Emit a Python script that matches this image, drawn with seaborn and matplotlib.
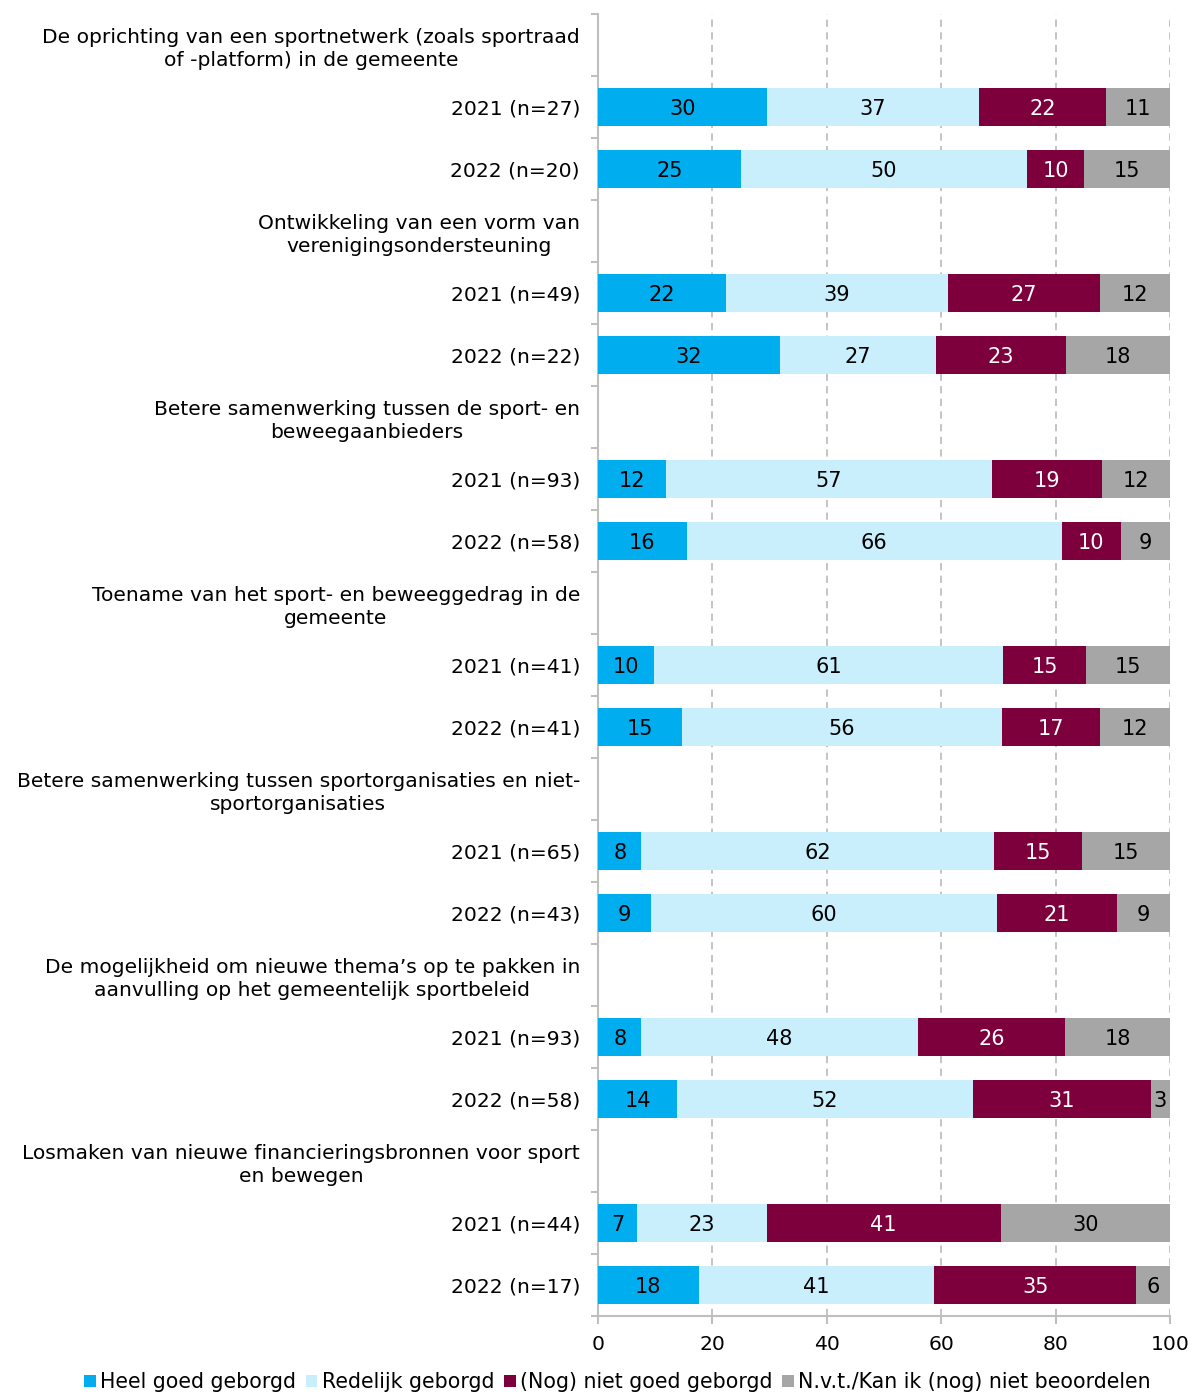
import seaborn as sns
import matplotlib
import pandas as pd
import numpy as np

matplotlib.use('Agg')
import matplotlib.pyplot as plt
from matplotlib.patches import Patch

# statements (header rows) and the two survey years under each
titles = [
    'De oprichting van een sportnetwerk (zoals sportraad\nof -platform) in de gemeente',
    'Ontwikkeling van een vorm van\nverenigingsondersteuning',
    'Betere samenwerking tussen de sport- en\nbeweegaanbieders',
    'Toename van het sport- en beweeggedrag in de\ngemeente',
    'Betere samenwerking tussen sportorganisaties en niet-\nsportorganisaties',
    'De mogelijkheid om nieuwe thema\u2019s op te pakken in\naanvulling op het gemeentelijk sportbeleid',
    'Losmaken van nieuwe financieringsbronnen voor sport\nen bewegen',
]
years = [
    '2021 (n=27)', '2022 (n=20)',
    '2021 (n=49)', '2022 (n=22)',
    '2021 (n=93)', '2022 (n=58)',
    '2021 (n=41)', '2022 (n=41)',
    '2021 (n=65)', '2022 (n=43)',
    '2021 (n=93)', '2022 (n=58)',
    '2021 (n=44)', '2022 (n=17)',
]
heel = [29.6, 25.0, 22.4, 31.8, 11.8, 15.5, 9.8, 14.6, 7.6, 9.3, 7.6, 13.8, 6.8, 17.6]
redelijk = [37.0, 50.0, 38.8, 27.3, 57.0, 65.6, 61.0, 56.1, 61.6, 60.4, 48.3, 51.8, 22.7, 41.2]
niet = [22.2, 10.0, 26.6, 22.7, 19.4, 10.3, 14.6, 17.1, 15.4, 21.0, 25.8, 31.0, 40.9, 35.3]
nvt = [11.2, 15.0, 12.2, 18.2, 11.8, 8.6, 14.6, 12.2, 15.4, 9.3, 18.3, 3.4, 29.6, 5.9]

series = ['Heel goed geborgd', 'Redelijk geborgd', '(Nog) niet goed geborgd',
          'N.v.t./Kan ik (nog) niet beoordelen']
colors = ['#00AEEF', '#C9EEFC', '#7D003C', '#A6A6A6']
text_colors = ['black', 'black', 'white', 'black']

# build row layout: header row, then two year rows, for each statement
labels = []
row_ids = []
bar_rows = []
for i, t in enumerate(titles):
    labels += [t, years[2 * i], years[2 * i + 1]]
for k in range(len(labels)):
    row_ids.append(str(k))
for i in range(len(titles)):
    bar_rows += [str(3 * i + 1), str(3 * i + 2)]

vals = np.array([heel, redelijk, niet, nvt])
cum = np.cumsum(vals, axis=0)
df = pd.DataFrame({'row': bar_rows})
for j in range(4):
    df['c%d' % j] = cum[j]

plt.rcParams['font.family'] = ['DejaVu Sans']
fig = plt.figure(figsize=(11.92, 13.94), dpi=100)
ax = fig.add_axes([0.5017, 0.056, 0.4798, 0.934])

# stacked bars: draw cumulative totals from the back to the front
for j in range(3, -1, -1):
    sns.barplot(data=df, x='c%d' % j, y='row', order=row_ids, orient='h',
                color=colors[j], width=0.6, saturation=1, ax=ax, zorder=3)

# value labels
for r in range(len(bar_rows)):
    y = int(bar_rows[r])
    for j in range(4):
        start = cum[j][r] - vals[j][r]
        ax.text(start + vals[j][r] / 2, y, '%.0f' % vals[j][r], ha='center',
                va='center_baseline', fontsize=15, color=text_colors[j], zorder=5)

ax.set_xlim(0, 100)
ax.set_ylim(len(labels) - 0.5, -0.5)
ax.set_xticks([0, 20, 40, 60, 80, 100])
ax.set_yticks(range(len(labels)))
ax.set_yticklabels(labels)
for lab in ax.get_yticklabels():
    lab.set_multialignment('center')
    lab.set_linespacing(1.3)
ax.set_yticks(np.arange(-0.5, len(labels), 1), minor=True)
ax.tick_params(axis='y', which='major', length=0, pad=13, labelsize=14.6)
ax.tick_params(axis='y', which='minor', length=5, width=1.5, color='#BFBFBF')
ax.tick_params(axis='x', length=6, width=1.5, color='#BFBFBF', labelsize=14.6, pad=8)
ax.set_xlabel('')
ax.set_ylabel('')

ax.grid(False)
for x in [20, 40, 60, 80, 100]:
    ax.axvline(x, color='#BFBFBF', linestyle=(0, (4, 3)), linewidth=1.3, zorder=1)
for s in ['top', 'right']:
    ax.spines[s].set_visible(False)
for s in ['left', 'bottom']:
    ax.spines[s].set_color('#BFBFBF')
    ax.spines[s].set_linewidth(1.5)

handles = [Patch(facecolor=c, edgecolor='none') for c in colors]
fig.legend(handles, series, loc='lower center', bbox_to_anchor=(0.518, -0.012), ncol=4,
           frameon=False, fontsize=14.8, handlelength=0.55, handleheight=0.55,
           handletextpad=0.2, columnspacing=0.5)

fig.savefig('out.png', dpi=100, facecolor='white')
